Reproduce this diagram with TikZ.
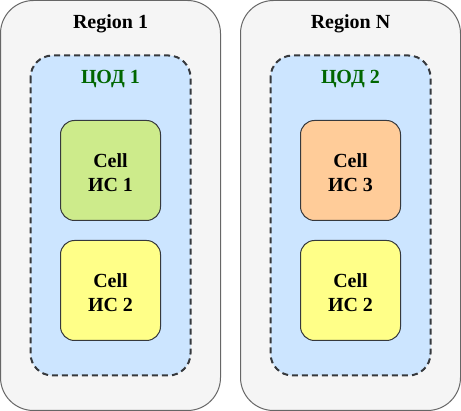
\documentclass[tikz,border=0pt]{standalone}
\usepackage{fontspec}
\setmainfont{Liberation Serif}
\definecolor{regfill}{HTML}{F5F5F5}
\definecolor{regline}{HTML}{666666}
\definecolor{codfill}{HTML}{CCE5FF}
\definecolor{darkline}{HTML}{36393D}
\definecolor{greenfill}{HTML}{CDEB8B}
\definecolor{yellowfill}{HTML}{FFFF88}
\definecolor{orangefill}{HTML}{FFCC99}
\definecolor{codtext}{HTML}{006600}
\begin{document}
\begin{tikzpicture}[x=1pt,y=-1pt,
  region/.style={draw=regline,fill=regfill,line width=1pt,rounded corners=33pt},
  codbox/.style={draw=darkline,fill=codfill,line width=2pt,dash pattern=on 6pt off 4pt,rounded corners=22pt},
  cellbox/.style={draw=darkline,line width=1pt,rounded corners=14pt},
  lbl/.style={font=\fontsize{20}{24}\selectfont\bfseries,align=center,inner sep=0pt},
]
\useasboundingbox (0,0) rectangle (461,411);
% regions
\draw[region] (0.5,0.5) rectangle (220.5,410.5);
\draw[region] (240.5,0.5) rectangle (460.5,410.5);
\node[lbl] (r1) at (110.5,24) {Region 1};
\node[lbl] (rn) at (350.5,24) {Region N};
% data centres
\draw[codbox] (30.5,55.5) rectangle (190.5,375.5);
\draw[codbox] (270.5,55.5) rectangle (430.5,375.5);
\node[lbl,text=codtext] (c1) at (110.5,79) {ЦОД 1};
\node[lbl,text=codtext] (c2) at (350.5,79) {ЦОД 2};
% cells
\draw[cellbox,fill=greenfill] (60.5,120.5) rectangle (160.5,220.5);
\node[lbl] (cell1) at (110.5,173) {Cell\\ИС 1};
\draw[cellbox,fill=yellowfill] (60.5,240.5) rectangle (160.5,340.5);
\node[lbl] (cell2) at (110.5,293) {Cell\\ИС 2};
\draw[cellbox,fill=orangefill] (300.5,120.5) rectangle (400.5,220.5);
\node[lbl] (cell3) at (350.5,173) {Cell\\ИС 3};
\draw[cellbox,fill=yellowfill] (300.5,240.5) rectangle (400.5,340.5);
\node[lbl] (cell4) at (350.5,293) {Cell\\ИС 2};
\end{tikzpicture}
\end{document}
